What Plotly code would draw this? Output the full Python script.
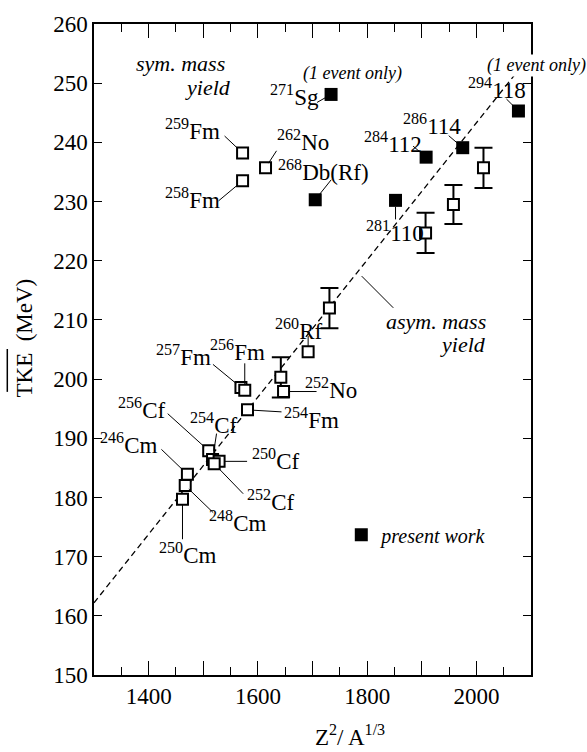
import math
import plotly.graph_objects as go

# ---------------- data ----------------
# earlier measurements (open squares) with labels
lit_names = ["<sup>259</sup>Fm", "<sup>258</sup>Fm", "<sup>262</sup>No", "<sup>260</sup>Rf",
             "<sup>252</sup>No", "<sup>257</sup>Fm", "<sup>256</sup>Fm", "<sup>254</sup>Fm",
             "<sup>256</sup>Cf", "<sup>254</sup>Cf", "<sup>250</sup>Cf", "<sup>252</sup>Cf",
             "<sup>246</sup>Cm", "<sup>248</sup>Cm", "<sup>250</sup>Cm"]
lit_x = [1572, 1572, 1614, 1692, 1647, 1569, 1576, 1581, 1510, 1517, 1529, 1520, 1471, 1467, 1462]
lit_y = [238.2, 233.5, 235.7, 204.6, 197.9, 198.6, 198.1, 194.8, 187.9, 186.4, 186.1, 185.7,
         183.9, 182.0, 179.7]

# earlier measurements with error bars (unlabelled open squares)
err_x = [1642, 1731, 1907, 1958, 2013]
err_y = [200.3, 212.0, 224.7, 229.5, 235.7]
err_e = [3.4, 3.4, 3.4, 3.3, 3.4]

# present work (filled squares)
new_names = ["<sup>271</sup>Sg", "<sup>268</sup>Db(Rf)", "<sup>281</sup>110",
             "<sup>284</sup>112", "<sup>286</sup>114", "<sup>294</sup>118"]
new_x = [1734, 1705, 1852, 1908, 1975, 2077]
new_y = [248.1, 230.3, 230.2, 237.5, 239.1, 245.3]

# systematics line (asym. mass yield)
fit_x = [1300, 2070]
fit_y = [162.2, 251.4]

x_ticks = [1300, 1400, 1500, 1600, 1700, 1800, 1900, 2000, 2100]
x_ticktext = ["", "1400", "", "1600", "", "1800", "", "2000", ""]

# label placement (pixels relative to point): text-left dx, text-centre dy,
# leader tail dx, tail dy, leader gap at the marker
lit_place = [(-80, -22, -18, -17, 7), (-80, 20, -24, 20, 7), (9, -25, 11, -17, 5.5),
             (-35, -20, 0, -16, 5), (19, -1, 33, 0, 6), (-87, -30, -28, -23, 6),
             (-37, -38, 0, -27, 6), (34, 11, 34, 2, 6), (-93, -40, -41, -37, 6),
             (-25, -34, 4, -26, 9), (31, 0, 28, 0, 5), (31, 39, 29, 30, 8),
             (-89, -29, -26, -25, 7), (22, 38, 28, 27, 5), (-25, 56, 0, 40, 5)]
new_place = [(-63, 3, -14, 8, 5.5), (-39, -27, 16, -20, 7), (-32, 33, 0, 19, 6.5),
             (-64, -13, -13, -11, 6), (-62, -21, -14, -12, 5.5), (-52, -21, -12, -12, 5)]

FONT = "Liberation Serif"
L, R, T, B = 94, 56, 22, 77
W, H = 587, 752
PW, PH = W - L - R, H - T - B


def px(x):
    return (x - L) / PW


def py(y):
    return (H - B - y) / PH


fig = go.Figure()

fig.add_trace(go.Scatter(x=fit_x, y=fit_y, mode="lines",
                         line=dict(color="black", width=1.3, dash="6px,4px"),
                         showlegend=False, hoverinfo="skip"))

fig.add_trace(go.Scatter(x=err_x, y=err_y, mode="markers",
                         error_y=dict(type="data", array=err_e, color="black", thickness=2, width=9),
                         marker=dict(symbol="square", size=11, color="white",
                                     line=dict(color="black", width=2)),
                         showlegend=False))

fig.add_trace(go.Scatter(x=lit_x, y=lit_y, mode="markers",
                         marker=dict(symbol="square", size=11, color="white",
                                     line=dict(color="black", width=2)),
                         showlegend=False))

fig.add_trace(go.Scatter(x=new_x, y=new_y, mode="markers", name="<i>present work</i>",
                         marker=dict(symbol="square", size=13, color="black",
                                     line=dict(color="black", width=0)),
                         showlegend=True))

ann = []
shapes = []
for names, xs, ys, places in [(lit_names, lit_x, lit_y, lit_place),
                              (new_names, new_x, new_y, new_place)]:
    for n, x, y, (tdx, tdy, adx, ady, so) in zip(names, xs, ys, places):
        ann.append(dict(x=x, y=y, xref="x", yref="y", text=n, showarrow=False,
                        xanchor="left", yanchor="middle", xshift=tdx, yshift=-tdy + 2,
                        font=dict(family=FONT, size=23, color="black")))
        d = math.hypot(adx, ady)
        hx, hy = adx * so / d, ady * so / d
        shapes.append(dict(type="line", xref="x", yref="y",
                           xsizemode="pixel", ysizemode="pixel", xanchor=x, yanchor=y,
                           x0=adx, y0=-ady, x1=hx, y1=-hy,
                           line=dict(color="black", width=1)))

# leader to the systematics line
shapes.append(dict(type="line", xref="paper", yref="paper",
                   xsizemode="pixel", ysizemode="pixel", xanchor=px(393.3), yanchor=py(306.7),
                   x0=-31.6, y0=31.7, x1=0, y1=0, line=dict(color="black", width=1)))
# overline of TKE
shapes.append(dict(type="line", xref="paper", yref="paper",
                   x0=px(7.3), x1=px(7.3), y0=py(391), y1=py(348),
                   line=dict(color="black", width=1.5)))

ital = dict(family=FONT, size=22, color="black")
ann += [
    dict(x=px(227), y=py(61.7), xref="paper", yref="paper", text="<i>sym. mass</i>",
         showarrow=False, xanchor="right", yanchor="middle", font=ital),
    dict(x=px(233), y=py(85.7), xref="paper", yref="paper", text="<i>yield</i>",
         showarrow=False, xanchor="right", yanchor="middle", font=ital),
    dict(x=px(488), y=py(320), xref="paper", yref="paper", text="<i>asym. mass</i>",
         showarrow=False, xanchor="right", yanchor="middle", font=ital),
    dict(x=px(488), y=py(343.3), xref="paper", yref="paper", text="<i>yield</i>",
         showarrow=False, xanchor="right", yanchor="middle", font=ital),
    dict(x=px(352), y=py(72), xref="paper", yref="paper", text="<i>(1 event only)</i>",
         showarrow=False, xanchor="center", yanchor="middle",
         font=dict(family=FONT, size=18, color="black")),
    dict(x=px(536.5), y=py(63.3), xref="paper", yref="paper", text="<i>(1 event only)</i>",
         showarrow=False, xanchor="center", yanchor="middle", bgcolor="white", borderpad=0,
         font=dict(family=FONT, size=18, color="black")),
    dict(x=px(349.7), y=py(736), xref="paper", yref="paper",
         text="Z<sup>2</sup>/ A<sup>1/3</sup>", showarrow=False,
         xanchor="center", yanchor="middle", font=dict(family=FONT, size=23, color="black")),
    dict(x=px(25), y=py(337.5), xref="paper", yref="paper", text="TKE  (MeV)",
         showarrow=False, textangle=-90, xanchor="center", yanchor="middle",
         font=dict(family=FONT, size=23, color="black")),
]

fig.update_layout(
    width=W, height=H,
    margin=dict(l=L, r=R, t=T, b=B),
    paper_bgcolor="white", plot_bgcolor="white",
    font=dict(family=FONT, size=23, color="black"),
    annotations=ann,
    shapes=shapes,
    legend=dict(x=px(363.3 - 22), y=py(534.3), xanchor="left", yanchor="middle",
                bgcolor="rgba(0,0,0,0)", font=dict(family=FONT, size=20, color="black"),
                borderwidth=0),
    xaxis=dict(range=[1300, 2100], tickmode="array", tickvals=x_ticks, ticktext=x_ticktext,
               ticks="inside", ticklen=14, tickwidth=1.3, tickcolor="black",
               minor=dict(dtick=50, tick0=1300, ticks="inside", ticklen=8, tickwidth=1.3,
                          tickcolor="black", showgrid=False),
               showline=True, linewidth=1.5, linecolor="black", mirror="ticks",
               showgrid=False, zeroline=False,
               tickfont=dict(family=FONT, size=23, color="black")),
    yaxis=dict(range=[150, 260], dtick=10, tick0=150, ticks="inside", ticklen=8,
               tickwidth=1.3, tickcolor="black",
               showline=True, linewidth=1.5, linecolor="black", mirror="ticks",
               showgrid=False, zeroline=False,
               tickfont=dict(family=FONT, size=23, color="black")),
)

fig.write_html("out.html")
